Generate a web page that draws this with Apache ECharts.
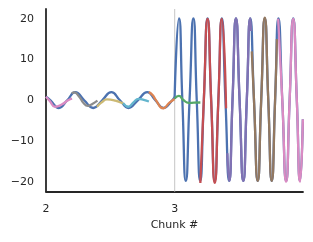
<!DOCTYPE html>
<html><head><meta charset="utf-8">
<script src="https://cdn.jsdelivr.net/npm/echarts@6/dist/echarts.min.js"></script>
<style>html,body{margin:0;padding:0;background:#fff}#c{width:313px;height:242px}</style>
</head><body><div id="c"></div><script>
// x range and tick labels
var xTicks = [2, 3];
var yTicks = [-20, -10, 0, 10, 20];
var chunkBoundary = [3];

// true signal (blue): small-amplitude part and large-amplitude part
var trueSmall = [
  [2.0,0.9],[2.035,0],[2.10,-1.9],[2.165,0],[2.228,2.0],[2.297,0],[2.367,-1.9],[2.437,0],
  [2.508,2.0],[2.575,0],[2.641,-1.9],[2.714,0],[2.787,2.0],[2.85,0],[2.914,-1.9],[2.982,0],
  [3.0,0.8]
];
var trueLarge = [
  [3.0,0.8],[3.034,20.1],[3.06,0],[3.087,-19.8],[3.116,0],[3.146,20.1],[3.172,0],[3.199,-19.8],
  [3.227,0],[3.256,20.1],[3.284,0],[3.312,-19.8],[3.34,0],[3.367,20.1],[3.395,0],[3.424,-19.8],
  [3.45,0],[3.477,20.1],[3.505,0],[3.534,-19.8],[3.561,0],[3.588,20.1],[3.617,0],[3.646,-19.8],
  [3.673,0],[3.701,20.1],[3.728,0],[3.755,-19.8],[3.781,0],[3.807,20.1],[3.837,0],[3.867,-19.8],
  [3.894,0],[3.922,20.1],[3.95,0],[3.975,-19.8],[3.997,-4.7]
];
// predicted chunks
var chunk1 = [[2.0,0.86],[2.031,-0.25],[2.07,-1.6],[2.125,-1.0],[2.172,0],[2.203,0.37]];
var chunk2 = [[2.2,1.7],[2.22,1.95],[2.26,0.8],[2.29,-0.6],[2.325,-1.4],[2.36,-0.9],[2.4,-0.1]];
var chunk3 = [[2.396,-1.6],[2.43,-0.6],[2.474,0.2],[2.539,-0.1],[2.6,-0.8]];
var chunk4 = [[2.6,-0.7],[2.64,-1.6],[2.68,-0.5],[2.72,0.35],[2.76,0.1],[2.8,-0.3]];
var chunk5 = [[2.8,2.0],[2.83,1.2],[2.855,0],[2.91,-2.0],[2.96,-0.6],[3.0,0.3]];
var chunk6 = [[3.0,0.4],[3.033,1.05],[3.07,0.0],[3.11,-0.65],[3.15,-0.6],[3.2,-0.55]];
var chunk7 = [[3.2,-20.3],[3.227,0],[3.256,20],[3.284,0],[3.312,-20.3],[3.34,0],[3.367,20],[3.40,-2]];
var chunk8 = [[3.41,-13],[3.424,-19.8],[3.45,0],[3.477,20.1],[3.505,0],[3.534,-19.8],[3.561,0],[3.588,20.1],[3.594,17]];
var chunk9 = [[3.60,12],[3.617,0],[3.646,-19.8],[3.673,0],[3.701,20.3],[3.728,0],[3.755,-19.8],[3.781,0],[3.795,15]];
var chunk10 = [[3.805,20],[3.837,0],[3.867,-20],[3.894,0],[3.922,20],[3.95,0],[3.975,-20],[3.997,-4.7]];

var X_MIN = 2, X_MAX = 3.998, Y_MIN = -22.4, Y_MAX = 22.4;

var chunks = [chunk1, chunk2, chunk3, chunk4, chunk5, chunk6, chunk7, chunk8, chunk9, chunk10];
var chunkColors = ['#DA8BC3','#8C8C8C','#CCB974','#64B5CD','#DD8452','#55A868','#C44E52','#8172B3','#937860','#DA8BC3'];
var chunkSmooth = [0.5,0.5,0.5,0.5,0.5,0.5,0.6,0.6,0.6,0.6];

var LW = 2.3;
var series = [];
series.push({
  type:'line', data: [[chunkBoundary[0], Y_MIN],[chunkBoundary[0], Y_MAX]],
  symbol:'none', lineStyle:{color:'#cfcfcf', width:1.2}, z:1, silent:true
});
series.push({type:'line', data: trueSmall, smooth:0.5, symbol:'none', lineStyle:{color:'#4C72B0', width:LW}, z:2});
series.push({type:'line', data: trueLarge, smooth:0.6, symbol:'none', lineStyle:{color:'#4C72B0', width:LW}, z:2});
chunks.forEach(function(c,i){
  series.push({type:'line', data:c, smooth:chunkSmooth[i], symbol:'none', lineStyle:{color:chunkColors[i], width:LW}, z:3});
});

var chart = echarts.init(document.getElementById('c'), null, {renderer:'canvas'});
var axisText = {color:'#262626', fontSize:11, fontFamily:'DejaVu Sans'};
chart.setOption({
  animation:false,
  grid:{left:46, right:10, top:9, bottom:50.5, containLabel:false},
  xAxis:{
    type:'value', min:X_MIN, max:X_MAX,
    name:'Chunk #', nameLocation:'middle', nameGap:28,
    nameTextStyle:axisText,
    axisLine:{show:true, onZero:false, lineStyle:{color:'#262626', width:1.8}},
    axisTick:{show:false},
    splitLine:{show:false},
    axisLabel:Object.assign({margin:12, customValues:xTicks, formatter:function(v){return String(v);}}, axisText)
  },
  yAxis:{
    type:'value', min:Y_MIN, max:Y_MAX,
    axisLine:{show:true, onZero:false, lineStyle:{color:'#262626', width:1.8}},
    axisTick:{show:false},
    splitLine:{show:false},
    axisLabel:Object.assign({margin:12, customValues:yTicks, formatter:function(v){return v<0 ? '\u2212'+Math.abs(v) : String(v);}}, axisText)
  },
  series:series
});
</script></body></html>
